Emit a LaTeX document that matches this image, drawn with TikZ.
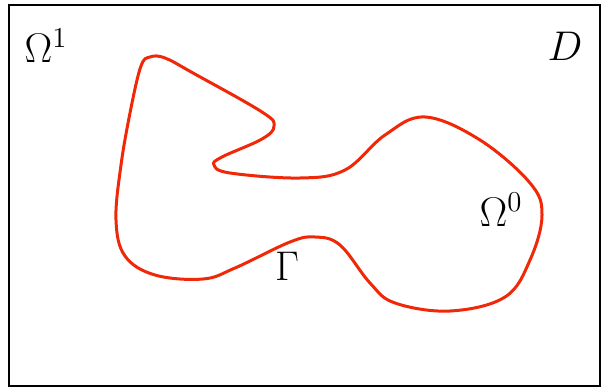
\documentclass[tikz,border=0pt]{standalone}
\usepackage{amsmath,amssymb,xcolor}
\definecolor{bdred}{RGB}{240,40,8}
\usepackage{tikz}
\usetikzlibrary{calc}

\begin{document}
\begin{tikzpicture}[
  x=0.5pt,y=-0.5pt,
  every node/.style={font=\huge},
  frame/.style={draw=black,line width=0.7pt},
  boundary/.style={draw=bdred,line width=1.5pt},
]
  \useasboundingbox (0,0) rectangle (603,389);

  % Domain D
  \draw[frame] (9,5) rectangle (600,386);

  % Boundary Gamma
  \draw[boundary] plot[smooth cycle,tension=0.62] coordinates {
    (141,66) (150,57) (165,58) (193,73) (262,112) (274,126) (262,139)
    (222,157) (214,165) (230,173) (300,178) (345,170) (385,135) (425,117)
    (480,140) (530,183) (542,215) (530,260) (505,297) (450,311) (395,303)
    (370,283) (340,245) (315,237) (290,242) (235,268) (203,279) (155,275)
    (125,256) (116,220) (121,165) (131,108)};

  % Labels
  \node (omegaone) at (46,46) {$\Omega^1$};
  \node (domain) at (565,46) {$D$};
  \node (omegazero) at (501,210) {$\Omega^0$};
  \node (gamma) at (287,266) {$\Gamma$};
\end{tikzpicture}
\end{document}
